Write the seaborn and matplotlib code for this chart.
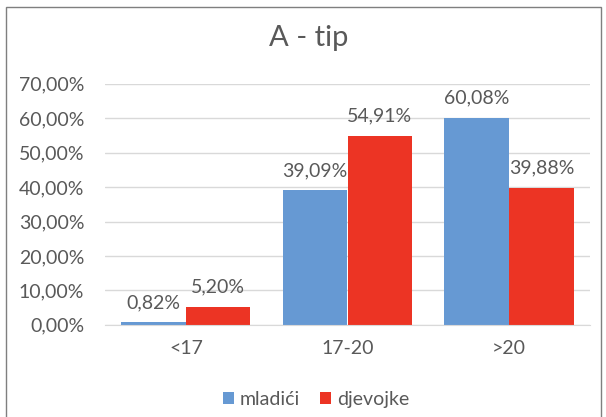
import pandas as pd
import matplotlib
matplotlib.use("Agg")
import matplotlib.pyplot as plt
import seaborn as sns
from matplotlib.patches import Rectangle

# chart data
categories = ['<17', '17-20', '>20']
mladici = [0.82, 39.09, 60.08]
djevojke = [5.20, 54.91, 39.88]
series_names = ['mladići', 'djevojke']
yticks = [0, 10, 20, 30, 40, 50, 60, 70]

df = pd.DataFrame({
    'kategorija': categories * 2,
    'vrijednost': mladici + djevojke,
    'grupa': [series_names[0]] * 3 + [series_names[1]] * 3,
})

sns.set_style("white")
plt.rcParams['font.family'] = ['Lato', 'DejaVu Sans']
text_col = '#595959'

fig = plt.figure(figsize=(6.06, 4.17), dpi=100)
ax = fig.add_axes([105 / 606, 0.221, 485 / 606, 0.578])

sns.barplot(data=df, x='kategorija', y='vrijednost', hue='grupa',
            order=categories, hue_order=series_names,
            palette=['#6699D3', '#EC3424'], saturation=1, width=0.8,
            linewidth=0, ax=ax, legend=True)

ax.set_ylim(0, 70)
ax.set_xlim(-0.5, 2.5)
ax.set_yticks(yticks)
ax.set_yticklabels([f"{v:.2f}%".replace('.', ',') for v in yticks],
                   fontsize=14, color=text_col)
ax.tick_params(axis='x', labelsize=14, colors=text_col, length=0, pad=11)
ax.tick_params(axis='y', length=0, pad=15)
ax.set_xlabel('')
ax.set_ylabel('')
ax.grid(axis='y', color='#d9d9d9', linewidth=1)
ax.set_axisbelow(True)
for s in ['top', 'right', 'left']:
    ax.spines[s].set_visible(False)
ax.spines['bottom'].set_color('#d9d9d9')

for cont in ax.containers:
    labels = [f"{b.get_height():.2f}%".replace('.', ',') for b in cont]
    ax.bar_label(cont, labels=labels, fontsize=14, color=text_col, padding=8)

ax.legend(loc='center', bbox_to_anchor=(0.435, -0.31), ncol=2, frameon=False,
          fontsize=14, handlelength=0.6, handleheight=0.6, columnspacing=1.0,
          handletextpad=0.3, labelcolor=text_col)

fig.suptitle('A - tip', x=0.51, y=0.94, fontsize=21, color=text_col)

# outer chart frame
fig.patches.append(Rectangle((6 / 606, -0.05), 595 / 606, 1 - 7 / 417 + 0.05,
                             transform=fig.transFigure, fill=False,
                             edgecolor='#7f7f7f', linewidth=1))

fig.savefig('out.png', dpi=100)
